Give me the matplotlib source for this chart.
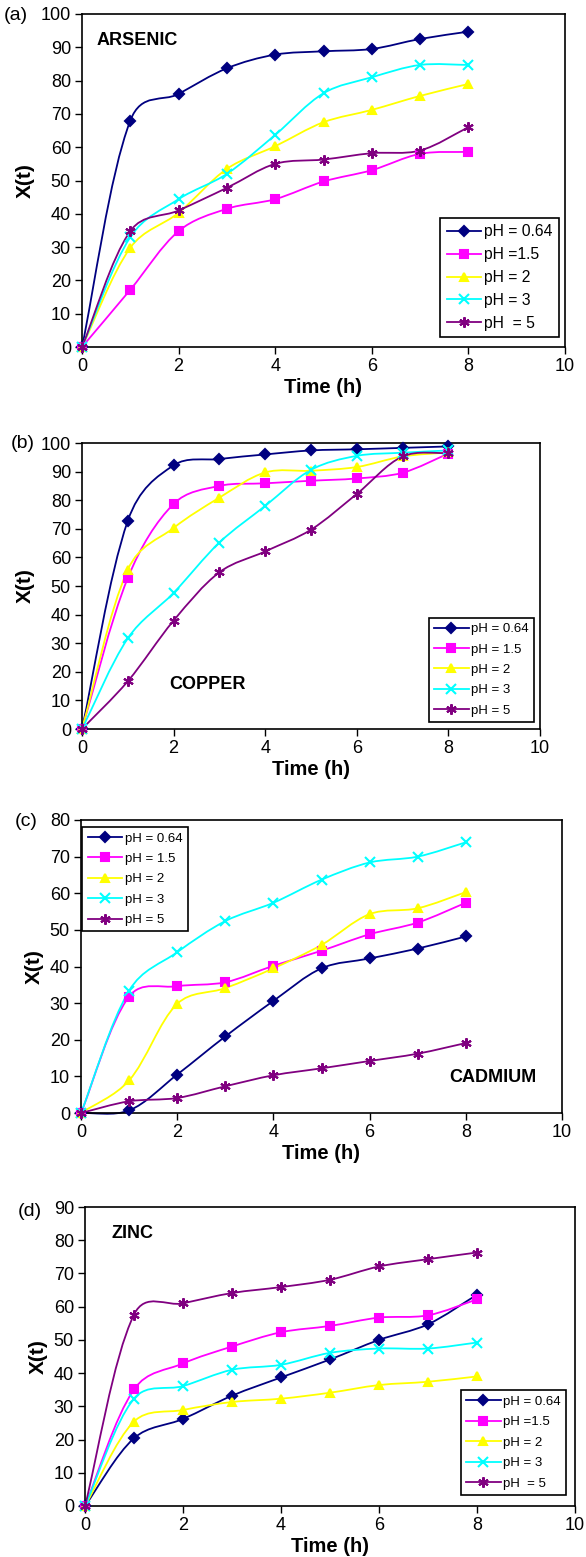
import numpy as np
import matplotlib
matplotlib.use('Agg')
import matplotlib.pyplot as plt
from matplotlib.path import Path
from matplotlib.patches import PathPatch
from matplotlib.lines import Line2D

plt.rcParams['font.family'] = ['Liberation Sans', 'DejaVu Sans']

# time points (h)
time_h = [0, 1, 2, 3, 4, 5, 6, 7, 8]

# (a) arsenic
arsenic_064 = [0, 68.0, 76.0, 83.7, 87.8, 88.8, 89.5, 92.5, 94.7]
arsenic_15 = [0, 17.2, 34.8, 41.5, 44.4, 49.7, 53.1, 58.0, 58.6]
arsenic_2 = [0, 29.8, 40.3, 53.5, 60.3, 67.5, 71.2, 75.4, 79.0]
arsenic_3 = [0, 33.0, 44.4, 52.0, 63.7, 76.2, 81.0, 84.7, 84.7]
arsenic_5 = [0, 34.8, 41.0, 47.8, 55.0, 56.3, 58.2, 59.0, 66.0]

# (b) copper
copper_064 = [0, 72.8, 92.2, 94.4, 96.0, 97.4, 97.8, 98.3, 98.8]
copper_15 = [0, 52.8, 78.7, 85.0, 85.9, 86.8, 87.6, 89.6, 96.3]
copper_2 = [0, 55.7, 70.3, 80.9, 89.7, 90.3, 91.6, 95.3, 96.7]
copper_3 = [0, 31.7, 47.6, 65.2, 78.0, 90.6, 95.5, 96.6, 97.4]
copper_5 = [0, 16.7, 37.9, 54.8, 62.1, 69.7, 82.2, 95.3, 96.5]

# (c) cadmium
cadmium_064 = [0, 0.7, 10.5, 20.9, 30.6, 39.5, 42.2, 44.9, 48.2]
cadmium_15 = [0, 31.8, 34.6, 35.7, 40.2, 44.3, 48.8, 52.0, 57.4]
cadmium_2 = [0, 8.9, 29.8, 34.1, 39.5, 45.9, 54.3, 55.9, 60.3]
cadmium_3 = [0, 33.4, 43.9, 52.4, 57.4, 63.7, 68.4, 70.0, 73.9]
cadmium_5 = [0, 3.2, 4.1, 7.3, 10.3, 12.2, 14.2, 16.2, 19.1]

# (d) zinc
zinc_064 = [0, 20.4, 26.2, 33.2, 38.7, 44.1, 50.0, 54.7, 63.6]
zinc_15 = [0, 35.1, 42.9, 48.0, 52.3, 54.2, 56.7, 57.4, 62.2]
zinc_2 = [0, 25.4, 28.9, 31.3, 32.3, 34.1, 36.4, 37.4, 39.0]
zinc_3 = [0, 32.3, 36.1, 41.0, 42.5, 46.1, 47.4, 47.4, 49.2]
zinc_5 = [0, 57.6, 61.0, 64.1, 65.9, 68.1, 72.1, 74.3, 76.3]

colors = ['#000080', '#FF00FF', '#FFFF00', '#00FFFF', '#800080']
markers = ['D', 's', '^', 'x', (6, 2, 0)]
msizes = [5, 5.5, 6, 6.5, 7.5]


def smooth_line(ax, x, y, color, sx, sy):
    # Excel-like smoothed line: cubic Bezier through the data points,
    # tangent length damped by neighbouring segment lengths (in pixels)
    pts = np.column_stack([x, y]).astype(float)
    n = len(pts)

    def dist(a, b):
        return np.hypot((a[0] - b[0]) * sx, (a[1] - b[1]) * sy)

    def ctrl(prev, cur, nxt, seg_out, seg_in):
        tot = seg_in + seg_out
        w = seg_out / tot / 3.0 if tot > 0 else 1 / 6.0
        f = 0.5 * (1 / 6.0 + w)
        return (nxt - prev) * f

    verts = [pts[0]]
    codes = [Path.MOVETO]
    for i in range(n - 1):
        p0 = pts[i - 1] if i > 0 else pts[i]
        p3 = pts[i + 2] if i + 2 < n else pts[i + 1]
        d12 = dist(pts[i], pts[i + 1])
        c1 = pts[i] + ctrl(p0, pts[i], pts[i + 1], d12, dist(p0, pts[i]))
        c2 = pts[i + 1] - ctrl(pts[i], pts[i + 1], p3, d12,
                               dist(pts[i + 1], p3))
        verts += [c1, c2, pts[i + 1]]
        codes += [Path.CURVE4] * 3
    ax.add_patch(PathPatch(Path(verts, codes), fill=False, edgecolor=color,
                           lw=1.3, clip_on=False, zorder=2))


def panel(rect, series, labels, ymax, letter, name, name_pos, name_ha,
          leg_loc, leg_anchor, leg_fs, leg_sp, leg_hl):
    ax = fig.add_axes(rect)
    sx = rect[2] * W / 10.0
    sy = rect[3] * H / ymax
    for ys, c, m, ms in zip(series, colors, markers, msizes):
        smooth_line(ax, time_h, ys, c, sx, sy)
        ax.plot(time_h, ys, ls='none', marker=m, color=c, ms=ms, mew=1.5,
                clip_on=False, zorder=3)
    ax.set_xlim(0, 10)
    ax.set_ylim(0, ymax)
    ax.set_xticks(np.arange(0, 11, 2))
    ax.set_yticks(np.arange(0, ymax + 1, 10))
    ax.tick_params(direction='out', length=5, width=1, labelsize=13, pad=3)
    for s in ax.spines.values():
        s.set_linewidth(1.2)
    ax.set_xlabel('Time (h)', fontsize=14.5, fontweight='bold', labelpad=2)
    ax.set_ylabel('X(t)', fontsize=15, fontweight='bold', labelpad=4)
    ax.text(name_pos[0], name_pos[1], name, transform=ax.transAxes,
            fontsize=13, fontweight='bold', ha=name_ha, va='center')
    handles = [Line2D([], [], color=c, marker=m, ms=ms, mew=1.5, lw=1.3)
               for c, m, ms in zip(colors, markers, msizes)]
    leg = ax.legend(handles, labels, loc=leg_loc, bbox_to_anchor=leg_anchor,
                    fontsize=leg_fs, labelspacing=leg_sp, handlelength=leg_hl,
                    handletextpad=0.2, borderpad=0.4, borderaxespad=0,
                    fancybox=False, framealpha=1)
    leg.get_frame().set_edgecolor('black')
    leg.get_frame().set_linewidth(1.2)
    fig.text(letter[1] / W, 1 - letter[2] / H, letter[0], fontsize=14,
             va='center', ha='left')
    return ax


W, H = 586, 1557
fig = plt.figure(figsize=(W / 100, H / 100), dpi=100)

labels_a = ['pH = 0.64', 'pH =1.5', 'pH = 2', 'pH = 3', 'pH  = 5']
labels_b = ['pH = 0.64', 'pH = 1.5', 'pH = 2', 'pH = 3', 'pH = 5']

panel([82 / W, 1 - 347 / H, 483 / W, 333 / H],
      [arsenic_064, arsenic_15, arsenic_2, arsenic_3, arsenic_5], labels_a, 100,
      ('(a)', 4, 16), 'ARSENIC', (0.03, 0.92), 'left',
      'lower right', (0.988, 0.03), 11.3, 0.5, 2.2)

panel([82 / W, 1 - 729 / H, 458 / W, 286 / H],
      [copper_064, copper_15, copper_2, copper_3, copper_5], labels_b, 100,
      ('(b)', 11, 444), 'COPPER', (0.19, 0.157), 'left',
      'lower right', (0.987, 0.024), 9.5, 0.62, 2.6)

panel([81 / W, 1 - 1113 / H, 481 / W, 293 / H],
      [cadmium_064, cadmium_15, cadmium_2, cadmium_3, cadmium_5], labels_b, 80,
      ('(c)', 15, 822), 'CADMIUM', (0.948, 0.12), 'right',
      'upper left', (0.003, 0.976), 9.5, 0.62, 2.6)

panel([85 / W, 1 - 1506 / H, 490 / W, 299 / H],
      [zinc_064, zinc_15, zinc_2, zinc_3, zinc_5], labels_a, 90,
      ('(d)', 18, 1212), 'ZINC', (0.055, 0.913), 'left',
      'lower right', (0.982, 0.037), 9.5, 0.62, 2.6)

fig.savefig('out.png', dpi=100)
